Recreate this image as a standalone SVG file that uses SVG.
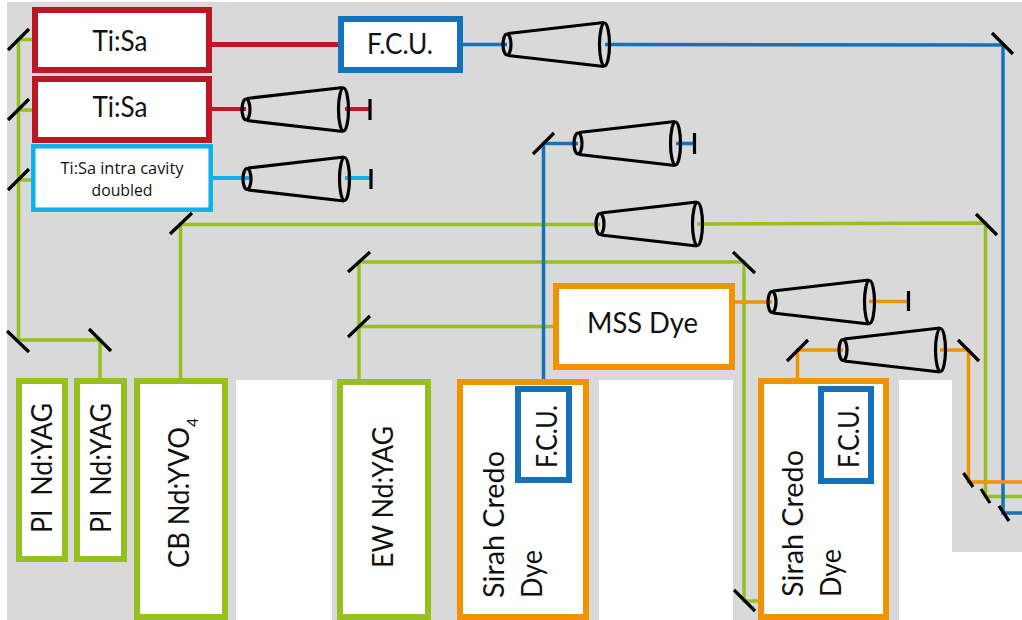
<svg xmlns="http://www.w3.org/2000/svg" width="1022" height="620" viewBox="0 0 1022 620">
<style>
.box{fill:#fff;stroke-width:6}
.red{stroke:#be1622}.blue{stroke:#1571b8}.cyan{stroke:#0cb1ec}.green{stroke:#95c11f}.orange{stroke:#f39200}
.beam{fill:none;stroke-width:3.500}
.m{stroke:#000;stroke-width:3.200;fill:none}
.t{fill:none;stroke:#000;stroke-width:3.200}
text{font-family:"Lato","Open Sans","Liberation Sans",sans-serif;fill:#111}
.c{text-anchor:middle}
.l{font-size:28px}
.s{font-family:"Open Sans","Liberation Sans",sans-serif;font-size:16px}
.p{white-space:pre}
</style>
<defs>
<g id="tele">
<ellipse class="t" cx="0" cy="0" rx="4" ry="10.5"/>
<ellipse class="t" cx="97.500" cy="0" rx="5" ry="21.500"/>
<path class="t" d="M1 -11L97 -22M1 11L97 22"/>
</g>
</defs>
<g id="background">
<rect x="7" y="2" width="1015" height="550" fill="#d9d9d9"/>
<rect x="7" y="552" width="945" height="68" fill="#d9d9d9"/>
<rect x="899" y="380" width="53" height="240" fill="#fff"/>
<rect x="952" y="552" width="70" height="68" fill="#fff"/>
<rect x="236" y="380" width="96" height="240" fill="#fff"/>
<rect x="599" y="380" width="134" height="240" fill="#fff"/>
</g>
<g id="connectors">
<path class="beam green" d="M32 39.500H18.500V340H100V380M18.500 110H32M18.500 180H32"/>
<path class="beam green" d="M180.500 380V224.500H600M697 224L985.500 223V496.500H1022"/>
<path class="beam green" d="M359 380V262H744V601H758M359 326.500H553"/>
<path class="red" fill="none" stroke-width="5" d="M212 44.500H338"/>
<path class="red" fill="none" stroke-width="4" d="M212 109H246M345 109H370"/>
<path class="cyan" fill="none" stroke-width="4" d="M213 178H251M345 178H370"/>
<path class="beam blue" d="M463 44.500H507M605 44.500L1003 45V513H1022"/>
<path class="beam blue" d="M543.500 386V143.500H578M676 143.500H693"/>
<path class="beam orange" d="M735 302H772M869 301.500H908"/>
<path class="beam orange" d="M797.500 380V350H843M940 350H968.500V482H1022"/>
<path class="m" d="M8 50L29 29M8 120L29 99M8 190L29 169M7 331L29 352M89 329L111 351M170 234L192 213M348 272L370 252M348 337L370 316M733 252L755 273M734 590L755 611M976 214L997 235M992 33L1013 54M533 154L554 133M787 361L808 340M958 340L979 361M963.500 473L973 487M981 489L990 503M999 506L1009 521"/>
<path class="m" d="M370 99V120M371 169V189M694.500 133V154M908.500 291V311"/>
<path d="M207 41H209V44H207Z" fill="#000"/>
</g>
<g id="telescopes">
<use href="#tele" x="507" y="44.500"/>
<use href="#tele" x="246" y="109.500"/>
<use href="#tele" x="247" y="179"/>
<use href="#tele" x="578" y="143.500"/>
<use href="#tele" x="600" y="224"/>
<use href="#tele" x="772" y="302"/>
<use href="#tele" x="843" y="350"/>
</g>
<g id="tisa1"><rect class="box red" x="35" y="10" width="174" height="60"/><text class="c l" x="120" y="51" textLength="55" lengthAdjust="spacingAndGlyphs">Ti:Sa</text></g>
<g id="tisa2"><rect class="box red" x="35" y="79" width="174" height="61"/><text class="c l" x="120" y="117" textLength="55" lengthAdjust="spacingAndGlyphs">Ti:Sa</text></g>
<g id="tisa3"><rect class="box cyan" style="stroke-width:4.500" x="33.300" y="146.300" width="177.400" height="63.400"/><text class="c s" x="122" y="174" textLength="123" lengthAdjust="spacingAndGlyphs">Ti:Sa intra cavity</text><text class="c s" x="122" y="196" textLength="61" lengthAdjust="spacingAndGlyphs">doubled</text></g>
<g id="fcu1"><rect class="box blue" x="341" y="19" width="119" height="51"/><text class="c l" x="400" y="54" textLength="66" lengthAdjust="spacingAndGlyphs">F.C.U.</text></g>
<g id="mss"><rect class="box orange" x="556" y="286" width="176" height="81"/><text class="c l" x="642.500" y="333" textLength="111" lengthAdjust="spacingAndGlyphs">MSS Dye</text></g>
<g id="pi1"><rect class="box green" x="19" y="381" width="46" height="178"/><text class="l p" transform="translate(52 533) rotate(-90)" textLength="130" lengthAdjust="spacingAndGlyphs">PI  Nd:YAG</text></g>
<g id="pi2"><rect class="box green" x="77" y="381" width="47" height="178"/><text class="l p" transform="translate(111 533) rotate(-90)" textLength="130" lengthAdjust="spacingAndGlyphs">PI  Nd:YAG</text></g>
<g id="cb"><rect class="box green" x="137" y="381" width="88" height="236"/><text class="l" transform="translate(189 568) rotate(-90)" textLength="150" lengthAdjust="spacingAndGlyphs">CB Nd:YVO<tspan font-size="16" dy="9">4</tspan></text></g>
<g id="ew"><rect class="box green" x="340" y="382" width="88" height="235"/><text class="l" transform="translate(393 568) rotate(-90)" textLength="142" lengthAdjust="spacingAndGlyphs">EW Nd:YAG</text></g>
<g id="sirah1"><rect class="box orange" x="460" y="382" width="126" height="235"/><text class="l" transform="translate(504 598) rotate(-90)" textLength="147" lengthAdjust="spacingAndGlyphs">Sirah Credo</text><text class="l" transform="translate(541.500 598) rotate(-90)" textLength="48" lengthAdjust="spacingAndGlyphs">Dye</text></g>
<g id="fcu2"><rect class="box blue" x="518" y="389" width="51" height="91"/><text class="l" transform="translate(557 468) rotate(-90)" textLength="63" lengthAdjust="spacingAndGlyphs">F.C.U.</text></g>
<g id="sirah2"><rect class="box orange" x="761" y="381" width="125" height="236"/><text class="l" transform="translate(803 597) rotate(-90)" textLength="147" lengthAdjust="spacingAndGlyphs">Sirah Credo</text><text class="l" transform="translate(841 597) rotate(-90)" textLength="48" lengthAdjust="spacingAndGlyphs">Dye</text></g>
<g id="fcu3"><rect class="box blue" x="821" y="389" width="50" height="92"/><text class="l" transform="translate(859 468) rotate(-90)" textLength="63" lengthAdjust="spacingAndGlyphs">F.C.U.</text></g>
</svg>
